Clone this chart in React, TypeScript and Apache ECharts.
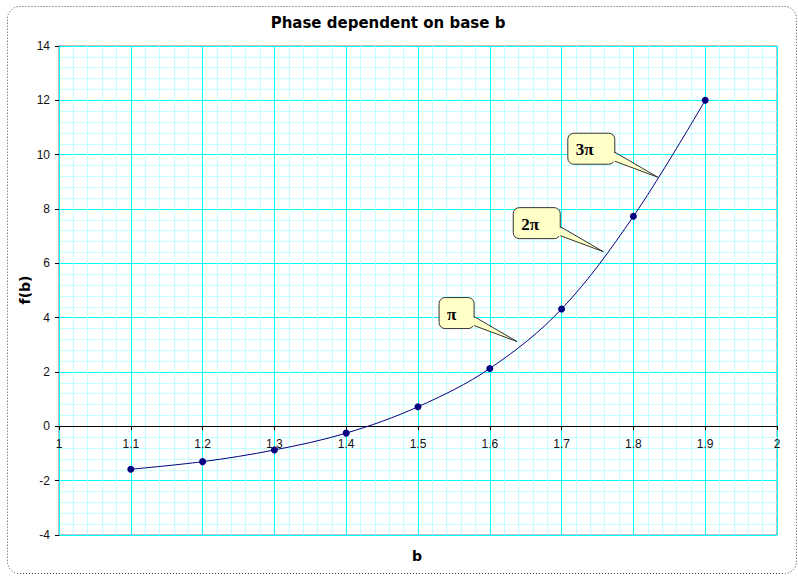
import React, { useEffect, useRef } from "react";
import * as echarts from "echarts";

const xValues = [1.1, 1.2, 1.3, 1.4, 1.5, 1.6, 1.7, 1.8, 1.9];
const fValues = [-1.58, -1.3, -0.87, -0.25, 0.72, 2.13, 4.32, 7.73, 12.0];
const calloutLabels = ["π", "2π", "3π"];
const calloutX = [1.638, 1.758, 1.834];
const calloutY = [3.12, 6.43, 9.17];

export default function App() {
  const ref = useRef<HTMLDivElement>(null);
  useEffect(() => {
    if (!ref.current) return;
    const chart = echarts.init(ref.current, null, { renderer: "svg" });
    const labelFont = { fontFamily: "Liberation Sans", fontSize: 12, color: "#111" };
    chart.setOption({
      animation: false,
      backgroundColor: "#fff",
      grid: {
        left: 59,
        right: 21,
        top: 46,
        bottom: 41,
        show: true,
        borderColor: "#808080",
        borderWidth: 1,
        backgroundColor: "transparent",
      },
      xAxis: {
        type: "value",
        min: 1,
        max: 2,
        interval: 0.1,
        offset: -109,
        axisLine: { onZero: false, lineStyle: { color: "#000", width: 1 } },
        axisTick: { show: true, length: 4, lineStyle: { color: "#000" } },
        axisLabel: { ...labelFont, margin: 12, showMinLabel: true, showMaxLabel: true },
        splitLine: { show: true, lineStyle: { color: "#00FFFF", width: 1 } },
        minorTick: { show: false, splitNumber: 5 },
        minorSplitLine: { show: true, lineStyle: { color: "#C4FFFF", width: 1 } },
        z: 4,
      },
      yAxis: {
        type: "value",
        min: -4,
        max: 14,
        interval: 2,
        axisLine: { show: true, onZero: false, lineStyle: { color: "#000", width: 1 } },
        axisTick: { show: true, length: 4, lineStyle: { color: "#000" } },
        axisLabel: { ...labelFont, margin: 9 },
        splitLine: { show: true, lineStyle: { color: "#00FFFF", width: 1 } },
        minorTick: { show: false, splitNumber: 5 },
        minorSplitLine: { show: true, lineStyle: { color: "#C4FFFF", width: 1 } },
      },
      graphic: [
        {
          type: "rect",
          shape: { x: 7.5, y: 6.5, width: 789, height: 567, r: 12 },
          style: { fill: "none", stroke: "#444", lineWidth: 1, lineDash: [1, 2] },
          silent: true,
        },
        {
          type: "text",
          x: 388,
          y: 23,
          style: {
            text: "Phase dependent on base b",
            font: "bold 15px 'DejaVu Sans'",
            fill: "#000",
            align: "center",
            verticalAlign: "middle",
          },
        },
        {
          type: "text",
          x: 417,
          y: 556,
          style: {
            text: "b",
            font: "bold 14px 'DejaVu Sans'",
            fill: "#000",
            align: "center",
            verticalAlign: "middle",
          },
        },
        {
          type: "text",
          x: 25,
          y: 290,
          rotation: Math.PI / 2,
          style: {
            text: "f(b)",
            font: "bold 14px 'DejaVu Sans'",
            fill: "#000",
            align: "center",
            verticalAlign: "middle",
          },
        },
      ],
      series: [
        {
          type: "line",
          data: xValues.map((x, i) => [x, fValues[i]]),
          smooth: 0.35,
          symbol: "circle",
          symbolSize: 7,
          lineStyle: { color: "#000080", width: 1 },
          itemStyle: { color: "#000080" },
          z: 5,
        },
        {
          type: "custom",
          clip: false,
          z: 6,
          data: calloutX.map((x, i) => [x, calloutY[i]]),
          renderItem: (params: any, api: any) => {
            const tip = api.coord([api.value(0), api.value(1)]);
            const label = calloutLabels[params.dataIndex];
            const w = 23 + 12 * label.length;
            const h = 31;
            const right = tip[0] - 43;
            const left = right - w;
            const top = tip[1] - 44;
            const fill = "#FFFFC8";
            const stroke = "#333";
            return {
              type: "group",
              children: [
                {
                  type: "rect",
                  shape: { x: left, y: top, width: w, height: h, r: 6 },
                  style: { fill, stroke, lineWidth: 1 },
                },
                {
                  type: "polygon",
                  shape: {
                    points: [
                      [right - 2, top + 19],
                      [tip[0], tip[1]],
                      [right - 2, top + 28],
                    ],
                  },
                  style: { fill, stroke: "none" },
                },
                {
                  type: "polyline",
                  shape: {
                    points: [
                      [right, top + 19],
                      [tip[0], tip[1]],
                      [right, top + 28],
                    ],
                  },
                  style: { fill: "none", stroke, lineWidth: 1 },
                },
                {
                  type: "text",
                  x: left + 8,
                  y: top + h / 2 + 1,
                  style: {
                    text: label,
                    font: "bold 17px 'Liberation Serif'",
                    fill: "#000",
                    align: "left",
                    verticalAlign: "middle",
                  },
                },
              ],
            };
          },
        },
      ],
    });
    return () => chart.dispose();
  }, []);
  return (
    <div
      ref={ref}
      style={{ position: "absolute", left: 0, top: 0, width: 798, height: 576, background: "#fff" }}
    />
  );
}
